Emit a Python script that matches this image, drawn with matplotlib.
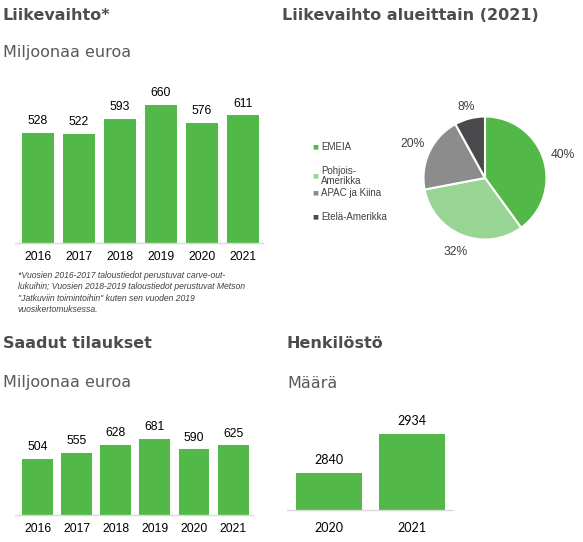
import matplotlib
matplotlib.use("Agg")
import matplotlib.pyplot as plt

# Data
vuodet = ["2016", "2017", "2018", "2019", "2020", "2021"]
liikevaihto = [528, 522, 593, 660, 576, 611]
tilaukset = [504, 555, 628, 681, 590, 625]

henk_vuodet = ["2020", "2021"]
henkilosto = [2840, 2934]

alueet = ["EMEIA", "Pohjois-\nAmerikka", "APAC ja Kiina", "Etelä-Amerikka"]
osuudet = [40, 32, 20, 8]

VIHREA = "#52B848"
pie_varit = ["#52B848", "#98D594", "#8C8C8C", "#4A4A4C"]
OTSIKKO = "#4D4D4D"
ALAOTSIKKO = "#595959"

W, H = 583, 542
fig = plt.figure(figsize=(W / 100, H / 100), dpi=100)


def akseli(x0, y0, x1, y1):
    return fig.add_axes([x0 / W, 1 - y1 / H, (x1 - x0) / W, (y1 - y0) / H])


def teksti(x, y, s, **kw):
    fig.text(x / W, 1 - y / H, s, **kw)


def pylvaat(ax, nimet, arvot, leveys, ylim, xlim, fontti, koko, nosto):
    x = range(len(arvot))
    ax.bar(x, arvot, width=leveys, color=VIHREA, zorder=2)
    for i, v in zip(x, arvot):
        ax.annotate(str(v), (i, v), xytext=(0, nosto), textcoords="offset points",
                    ha="center", va="bottom", fontsize=koko, family=fontti, color="#000000")
    ax.set_ylim(*ylim)
    ax.set_xlim(*xlim)
    ax.set_xticks(list(x))
    ax.set_xticklabels(nimet, fontsize=koko, family=fontti)
    ax.tick_params(axis="x", length=0, pad=6)
    ax.set_yticks([])
    for s in ["top", "right", "left"]:
        ax.spines[s].set_visible(False)
    ax.spines["bottom"].set_color("#D9D9D9")
    ax.spines["bottom"].set_linewidth(1.0)
    ax.patch.set_alpha(0)


# Otsikot
teksti(3, 15, "Liikevaihto*", fontsize=11.5, fontweight="bold", color=OTSIKKO, va="center")
teksti(3, 52, "Miljoonaa euroa", fontsize=11.5, color=ALAOTSIKKO, va="center")
teksti(282, 15, "Liikevaihto alueittain (2021)", fontsize=11.5, fontweight="bold",
       color=OTSIKKO, va="center")
teksti(3, 343, "Saadut tilaukset", fontsize=11.5, fontweight="bold", color=OTSIKKO, va="center")
teksti(3, 383, "Miljoonaa euroa", fontsize=11.5, color=ALAOTSIKKO, va="center")
teksti(287, 343, "Henkilöstö", fontsize=11.5, fontweight="bold", color=OTSIKKO, va="center")
teksti(287, 383, "Määrä", fontsize=11.5, color=ALAOTSIKKO, va="center")

# Liikevaihto
ax1 = akseli(15, 90, 263, 243)
pylvaat(ax1, vuodet, liikevaihto, 0.78, (0, 732), (-0.56, 5.49), "Liberation Sans", 8.7, 4)

alaviite = [
    "*Vuosien 2016-2017 taloustiedot perustuvat carve-out-",
    "lukuihin; Vuosien 2018-2019 taloustiedot perustuvat Metson",
    "\"Jatkuviin toimintoihin\" kuten sen vuoden 2019",
    "vuosikertomuksessa.",
]
for i, rivi in enumerate(alaviite):
    teksti(18, 275 + 11.6 * i, rivi, fontsize=6.2, style="italic", family="Liberation Sans",
           color="#404040", va="center")

# Saadut tilaukset
ax2 = akseli(15, 400, 253, 515)
pylvaat(ax2, vuodet, tilaukset, 0.79, (0, 1030), (-0.58, 5.51), "Liberation Sans", 8.7, 4)

# Henkilöstö
ax3 = akseli(287, 400, 453, 510)
pylvaat(ax3, henk_vuodet, henkilosto, 0.8, (2751, 3016), (-0.51, 1.5), "Lato", 9, 5)
ax3.tick_params(axis="x", pad=9)

# Piirakka
r = 61.5
axp = akseli(485 - r, 178 - r, 485 + r, 178 + r)
_, _, pros = axp.pie(osuudet, colors=pie_varit, startangle=90, counterclock=False,
                     autopct="%1.0f%%", pctdistance=1.3,
                     wedgeprops=dict(edgecolor="white", linewidth=1.5),
                     textprops=dict(fontsize=8.7, family="Liberation Sans", color="#404040"))
# pienin osuus lähempänä piirakkaa
x8, y8 = pros[3].get_position()
pros[3].set_position((x8 * 1.2 / 1.3, y8 * 1.2 / 1.3))
x40, y40 = pros[0].get_position()
pros[0].set_position((x40 * 1.02, y40 * 0.95))
axp.set_xlim(-1, 1)
axp.set_ylim(-1, 1)

selite_y = [147, 176, 193, 217]
for nimi, vari, y in zip(alueet, pie_varit, selite_y):
    teksti(315, y, "■", fontsize=4.5, color=vari, va="center", ha="center")
    teksti(321, y, nimi, fontsize=7, family="Liberation Sans", color="#404040",
           va="center", linespacing=1.1)

fig.savefig("out.png", dpi=100)
